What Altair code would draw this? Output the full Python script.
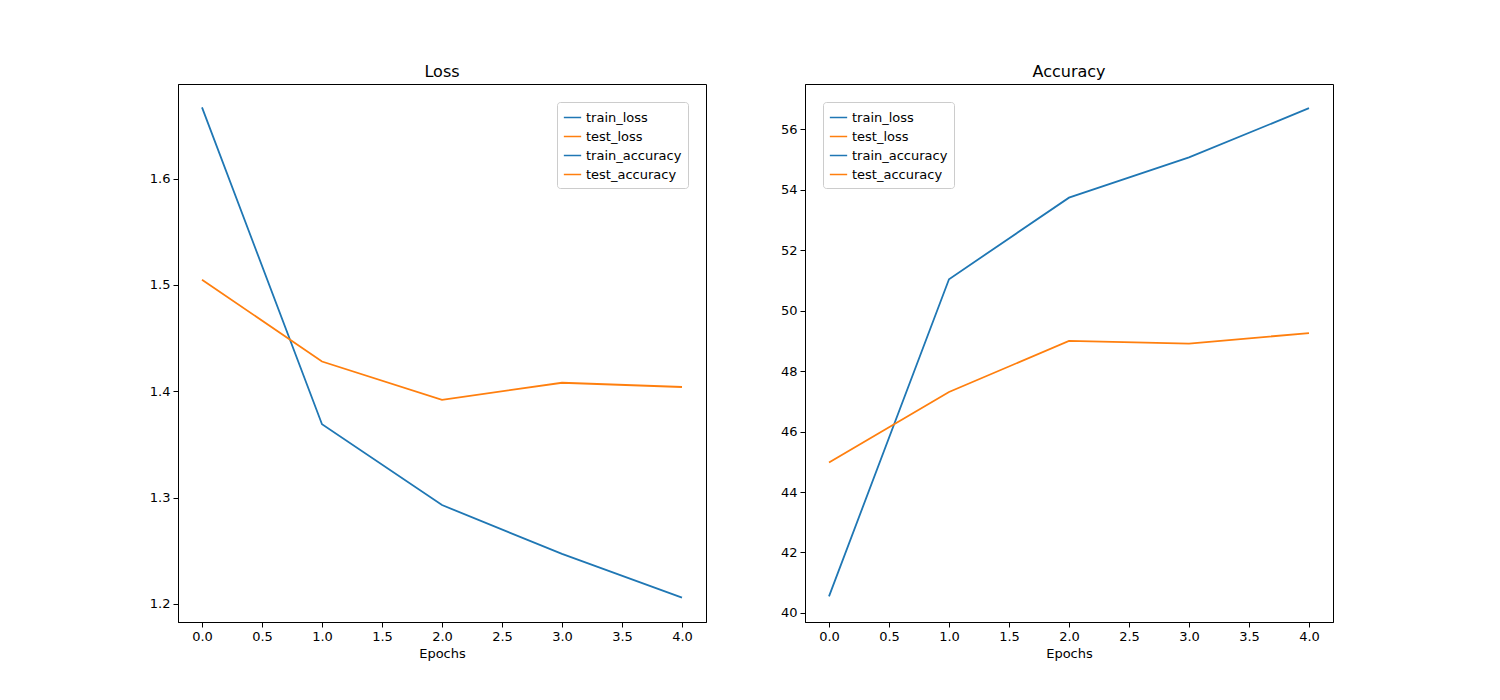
import pandas as pd
import altair as alt

epochs = [0, 1, 2, 3, 4]
train_loss = [1.667, 1.369, 1.293, 1.247, 1.206]
test_loss = [1.505, 1.428, 1.392, 1.408, 1.404]
train_accuracy = [40.55, 51.04, 53.74, 55.07, 56.70]
test_accuracy = [44.98, 47.31, 49.00, 48.91, 49.26]
loss_ticks = [1.2, 1.3, 1.4, 1.5, 1.6]
acc_ticks = [40, 42, 44, 46, 48, 50, 52, 54, 56]

colors = ["#1f77b4", "#ff7f0e"]
font = "DejaVu Sans"


def panel(title, names, series, ydom, yticks, yfmt, legend_orient):
    rows = []
    for name, vals in zip(names, series):
        for e, v in zip(epochs, vals):
            rows.append({"Epochs": e, "value": v, "series": name})
    df = pd.DataFrame(rows)
    return alt.Chart(df, title=alt.Title(title, fontSize=16, fontWeight="normal", font=font)).mark_line(strokeWidth=1.8).encode(
        x=alt.X("Epochs:Q", scale=alt.Scale(domain=[-0.2, 4.2], nice=False),
                axis=alt.Axis(values=[0, 0.5, 1, 1.5, 2, 2.5, 3, 3.5, 4], format=".1f", title="Epochs")),
        y=alt.Y("value:Q", scale=alt.Scale(domain=ydom, nice=False, zero=False),
                axis=alt.Axis(values=yticks, title=None, format=yfmt)),
        color=alt.Color("series:N", sort=names,
                        scale=alt.Scale(domain=names, range=colors),
                        legend=alt.Legend(title=None, orient=legend_orient, symbolType="stroke",
                                          strokeColor="#cccccc", fillColor="white", padding=6,
                                          cornerRadius=3, labelFontSize=13, labelFont=font, symbolSize=300)),
    ).properties(width=528, height=538)


loss = panel("Loss", ["train_loss", "test_loss"], [train_loss, test_loss], [1.183, 1.689], loss_ticks, ".1f", "top-right")
acc = panel("Accuracy", ["train_accuracy", "test_accuracy"], [train_accuracy, test_accuracy], [39.7, 57.5], acc_ticks, "d", "top-left")

chart = alt.hconcat(loss, acc, spacing=72).properties(
    padding={"left": 140, "top": 55, "right": 10, "bottom": 10}
).configure_axis(
    grid=False, labelFontSize=13, titleFontSize=13, labelFont=font, titleFont=font,
    domainColor="black", tickColor="black", labelColor="black", titleColor="black",
    titleFontWeight="normal", tickSize=5, labelPadding=3
).configure_view(stroke="black")

chart.save("out.html", embed_options={"renderer": "svg", "actions": False})
